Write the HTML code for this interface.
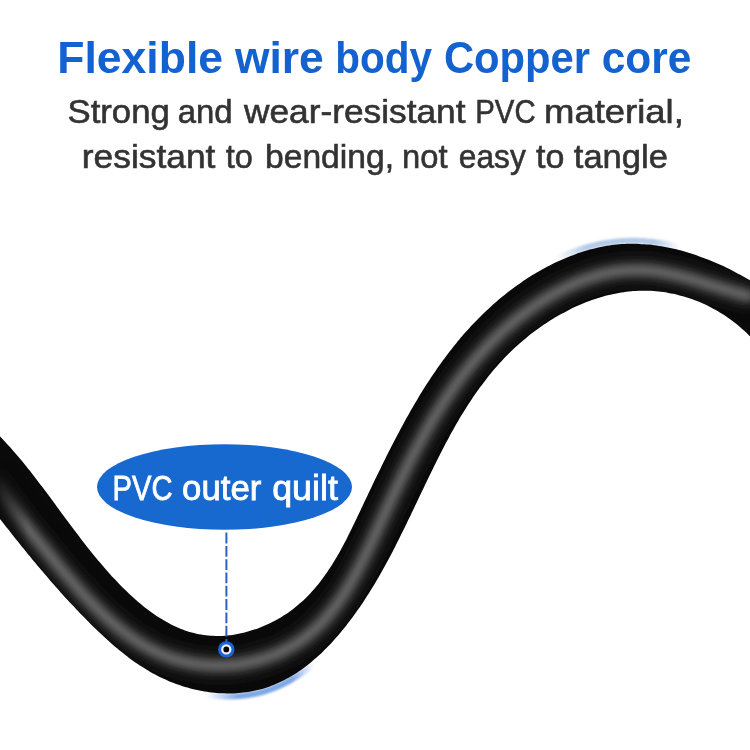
<!DOCTYPE html>
<html><head><meta charset="utf-8"><style>
html,body{margin:0;padding:0;background:#fff;}
#c{position:relative;width:750px;height:750px;overflow:hidden;background:#fff;}
svg{position:absolute;left:0;top:0;}
</style></head><body><div id="c">
<svg width="750" height="750" viewBox="0 0 750 750">
<defs>
<filter id="b1" x="-20%" y="-20%" width="140%" height="140%"><feGaussianBlur stdDeviation="4.5"/></filter>
<filter id="b2" x="-20%" y="-20%" width="140%" height="140%"><feGaussianBlur stdDeviation="2.5"/></filter>
<filter id="b3" x="-50%" y="-50%" width="200%" height="200%"><feGaussianBlur stdDeviation="0.7"/></filter>
<filter id="b4" x="-20%" y="-50%" width="140%" height="200%"><feGaussianBlur stdDeviation="1.3"/></filter>
<linearGradient id="gt" gradientUnits="userSpaceOnUse" x1="555" y1="0" x2="680" y2="0"><stop offset="0" stop-color="#b4cbe8" stop-opacity="0"/><stop offset="0.25" stop-color="#b4cbe8"/><stop offset="0.8" stop-color="#b4cbe8"/><stop offset="1" stop-color="#b4cbe8" stop-opacity="0"/></linearGradient>
<linearGradient id="gb" gradientUnits="userSpaceOnUse" x1="206" y1="0" x2="314" y2="0"><stop offset="0" stop-color="#7ea8e6" stop-opacity="0"/><stop offset="0.3" stop-color="#7ea8e6"/><stop offset="0.8" stop-color="#7ea8e6"/><stop offset="1" stop-color="#7ea8e6" stop-opacity="0"/></linearGradient>
<filter id="nf" x="-2%" y="-2%" width="104%" height="104%"><feOffset dx="0" dy="0"/></filter>
<filter id="b5" x="-20%" y="-20%" width="140%" height="140%"><feGaussianBlur stdDeviation="7"/></filter>
<linearGradient id="lg" gradientUnits="userSpaceOnUse" x1="0" y1="0" x2="28" y2="0"><stop offset="0" stop-color="#fff" stop-opacity="0.25"/><stop offset="1" stop-color="#fff" stop-opacity="1"/></linearGradient>
<mask id="lm" maskUnits="userSpaceOnUse" x="0" y="0" width="750" height="750"><rect x="0" y="0" width="750" height="750" fill="url(#lg)"/></mask>
<clipPath id="cc"><path d="M-10.8,425.8 C-10.1,426.4 -8.3,428.2 -7.1,429.4 C-5.8,430.6 -4.6,431.7 -3.4,432.9 C-2.2,434.1 -1.1,435.3 0.1,436.6 C1.3,437.8 2.4,439.0 3.6,440.2 C4.8,441.4 5.9,442.7 7.0,443.9 C8.2,445.1 9.3,446.4 10.4,447.6 C11.5,448.9 12.6,450.1 13.7,451.4 C14.8,452.6 15.9,453.9 17.0,455.2 C18.1,456.4 19.2,457.7 20.2,459.0 C21.3,460.2 22.4,461.5 23.4,462.8 C24.5,464.1 25.5,465.4 26.6,466.7 C27.6,468.0 28.6,469.3 29.7,470.6 C30.7,471.9 31.7,473.2 32.7,474.5 C33.8,475.8 34.8,477.1 35.8,478.4 C36.8,479.7 37.8,481.0 38.8,482.4 C39.8,483.7 40.8,485.0 41.8,486.3 C42.8,487.7 43.8,489.0 44.8,490.3 C45.8,491.6 46.8,493.0 47.8,494.3 C48.8,495.6 49.8,497.0 50.8,498.3 C51.8,499.6 52.7,501.0 53.7,502.3 C54.7,503.7 55.7,505.0 56.7,506.4 C57.7,507.7 58.7,509.0 59.7,510.4 C60.6,511.7 61.6,513.1 62.6,514.4 C63.6,515.8 64.6,517.1 65.6,518.5 C66.6,519.8 67.6,521.2 68.6,522.5 C69.6,523.9 70.6,525.2 71.6,526.5 C72.6,527.9 73.6,529.2 74.6,530.6 C75.6,531.9 76.7,533.3 77.7,534.6 C78.7,536.0 79.7,537.3 80.8,538.7 C81.8,540.0 82.8,541.3 83.9,542.7 C84.9,544.0 86.0,545.4 87.0,546.7 C88.1,548.0 89.1,549.4 90.2,550.7 C91.3,552.0 92.3,553.4 93.4,554.7 C94.5,556.0 95.6,557.3 96.7,558.7 C97.8,560.0 98.9,561.3 100.0,562.6 C101.1,563.9 102.2,565.3 103.4,566.6 C104.5,567.9 105.6,569.2 106.8,570.5 C107.9,571.8 109.1,573.1 110.3,574.4 C111.4,575.7 112.6,577.0 113.8,578.3 C115.0,579.5 116.2,580.8 117.4,582.1 C118.6,583.4 119.9,584.6 121.1,585.9 C122.3,587.1 123.5,588.4 124.8,589.6 C126.0,590.8 127.3,592.0 128.6,593.2 C129.8,594.4 131.1,595.6 132.4,596.8 C133.7,597.9 135.0,599.1 136.3,600.2 C137.6,601.4 138.9,602.5 140.2,603.6 C141.5,604.7 142.9,605.8 144.2,606.9 C145.6,607.9 146.9,609.0 148.3,610.0 C149.6,611.0 151.0,612.0 152.4,613.0 C153.8,614.0 155.2,614.9 156.5,615.9 C157.9,616.8 159.4,617.7 160.8,618.6 C162.2,619.4 163.6,620.3 165.0,621.1 C166.5,621.9 167.9,622.7 169.4,623.5 C170.8,624.3 172.3,625.0 173.7,625.7 C175.2,626.4 176.7,627.1 178.2,627.7 C179.7,628.4 181.2,629.0 182.7,629.5 C184.2,630.1 185.7,630.7 187.2,631.2 C188.7,631.7 190.2,632.1 191.8,632.6 C193.3,633.0 194.9,633.4 196.4,633.7 C198.0,634.1 199.5,634.4 201.1,634.6 C202.7,634.9 204.3,635.1 205.9,635.3 C207.5,635.5 209.0,635.7 210.7,635.8 C212.3,635.9 213.9,635.9 215.5,636.0 C217.1,636.0 218.7,636.0 220.3,635.9 C221.9,635.9 223.6,635.8 225.2,635.7 C226.8,635.5 228.4,635.4 230.1,635.2 C231.7,635.0 233.3,634.8 234.9,634.5 C236.6,634.2 238.2,633.9 239.8,633.6 C241.4,633.2 243.0,632.9 244.6,632.5 C246.2,632.1 247.8,631.6 249.4,631.1 C251.0,630.7 252.6,630.2 254.2,629.6 C255.8,629.1 257.4,628.5 258.9,627.9 C260.5,627.4 262.1,626.7 263.6,626.1 C265.1,625.4 266.7,624.7 268.2,624.0 C269.7,623.3 271.2,622.6 272.7,621.8 C274.2,621.0 275.7,620.3 277.1,619.4 C278.6,618.6 280.1,617.8 281.5,616.9 C282.9,616.0 284.3,615.1 285.7,614.2 C287.1,613.3 288.5,612.3 289.8,611.4 C291.2,610.4 292.5,609.4 293.8,608.4 C295.2,607.4 296.5,606.4 297.7,605.3 C299.0,604.2 300.2,603.2 301.5,602.1 C302.7,601.0 303.9,599.8 305.1,598.7 C306.2,597.6 307.4,596.4 308.5,595.2 C309.7,594.1 310.8,592.9 311.9,591.6 C313.0,590.4 314.1,589.2 315.1,588.0 C316.2,586.7 317.2,585.4 318.3,584.2 C319.3,582.9 320.3,581.6 321.3,580.3 C322.3,579.0 323.3,577.6 324.2,576.3 C325.2,575.0 326.2,573.6 327.1,572.2 C328.0,570.9 328.9,569.5 329.9,568.1 C330.8,566.7 331.7,565.3 332.5,563.9 C333.4,562.5 334.3,561.0 335.2,559.6 C336.0,558.2 336.9,556.7 337.7,555.3 C338.5,553.8 339.4,552.3 340.2,550.9 C341.0,549.4 341.8,547.9 342.6,546.4 C343.4,544.9 344.2,543.4 345.0,541.9 C345.8,540.4 346.6,538.9 347.3,537.4 C348.1,535.9 348.9,534.3 349.6,532.8 C350.4,531.3 351.2,529.8 351.9,528.2 C352.7,526.7 353.4,525.1 354.2,523.6 C354.9,522.1 355.6,520.5 356.4,519.0 C357.1,517.4 357.9,515.9 358.6,514.3 C359.3,512.8 360.1,511.2 360.8,509.7 C361.5,508.1 362.3,506.5 363.0,505.0 C363.7,503.4 364.5,501.9 365.2,500.3 C365.9,498.8 366.7,497.2 367.4,495.7 C368.1,494.1 368.9,492.6 369.6,491.0 C370.3,489.5 371.1,487.9 371.8,486.4 C372.6,484.8 373.3,483.3 374.0,481.7 C374.8,480.2 375.5,478.7 376.3,477.1 C377.0,475.6 377.8,474.0 378.5,472.5 C379.3,471.0 380.0,469.4 380.8,467.9 C381.5,466.4 382.3,464.8 383.0,463.3 C383.8,461.8 384.5,460.2 385.3,458.7 C386.0,457.2 386.8,455.6 387.6,454.1 C388.3,452.6 389.1,451.1 389.9,449.6 C390.6,448.0 391.4,446.5 392.2,445.0 C393.0,443.5 393.7,442.0 394.5,440.5 C395.3,439.0 396.1,437.5 396.9,436.0 C397.7,434.5 398.5,433.0 399.3,431.5 C400.0,430.0 400.8,428.5 401.7,427.0 C402.5,425.5 403.3,424.0 404.1,422.6 C404.9,421.1 405.7,419.6 406.5,418.1 C407.3,416.7 408.2,415.2 409.0,413.7 C409.8,412.3 410.6,410.8 411.5,409.3 C412.3,407.9 413.2,406.4 414.0,405.0 C414.9,403.5 415.7,402.1 416.6,400.7 C417.4,399.2 418.3,397.8 419.1,396.3 C420.0,394.9 420.9,393.5 421.8,392.1 C422.6,390.6 423.5,389.2 424.4,387.8 C425.3,386.4 426.2,385.0 427.1,383.6 C428.0,382.2 428.9,380.8 429.8,379.4 C430.7,378.0 431.6,376.6 432.6,375.3 C433.5,373.9 434.4,372.5 435.4,371.2 C436.3,369.8 437.3,368.4 438.2,367.1 C439.2,365.7 440.1,364.4 441.1,363.0 C442.0,361.7 443.0,360.3 444.0,359.0 C445.0,357.7 446.0,356.4 447.0,355.0 C448.0,353.7 449.0,352.4 450.0,351.1 C451.0,349.8 452.0,348.5 453.0,347.2 C454.0,345.9 455.1,344.6 456.1,343.4 C457.1,342.1 458.2,340.8 459.3,339.6 C460.3,338.3 461.4,337.0 462.4,335.8 C463.5,334.5 464.6,333.3 465.7,332.1 C466.8,330.8 467.9,329.6 469.0,328.4 C470.1,327.2 471.2,326.0 472.3,324.8 C473.5,323.6 474.6,322.4 475.8,321.2 C476.9,320.0 478.1,318.8 479.2,317.7 C480.4,316.5 481.6,315.3 482.7,314.2 C483.9,313.0 485.1,311.9 486.3,310.8 C487.5,309.6 488.7,308.5 489.9,307.4 C491.2,306.3 492.4,305.2 493.6,304.1 C494.9,303.0 496.1,301.9 497.4,300.8 C498.7,299.7 499.9,298.6 501.2,297.6 C502.5,296.5 503.8,295.5 505.1,294.4 C506.4,293.4 507.7,292.4 509.1,291.3 C510.4,290.3 511.7,289.3 513.1,288.3 C514.4,287.3 515.8,286.3 517.2,285.3 C518.6,284.3 519.9,283.4 521.3,282.4 C522.7,281.4 524.1,280.5 525.6,279.6 C527.0,278.6 528.4,277.7 529.8,276.8 C531.3,275.9 532.7,275.0 534.2,274.1 C535.6,273.2 537.1,272.3 538.6,271.5 C540.0,270.6 541.5,269.8 543.0,269.0 C544.5,268.2 546.0,267.3 547.5,266.6 C549.0,265.8 550.5,265.0 552.0,264.2 C553.5,263.5 555.1,262.7 556.6,262.0 C558.1,261.3 559.7,260.6 561.2,259.9 C562.8,259.2 564.3,258.5 565.9,257.9 C567.5,257.2 569.0,256.6 570.6,256.0 C572.2,255.4 573.8,254.8 575.4,254.2 C576.9,253.6 578.5,253.1 580.1,252.5 C581.7,252.0 583.3,251.5 584.9,251.0 C586.6,250.5 588.2,250.1 589.8,249.6 C591.4,249.2 593.0,248.8 594.6,248.4 C596.3,248.0 597.9,247.6 599.5,247.2 C601.2,246.9 602.8,246.6 604.4,246.3 C606.1,246.0 607.7,245.7 609.4,245.5 C611.0,245.2 612.6,245.0 614.3,244.8 C615.9,244.6 617.6,244.4 619.2,244.3 C620.9,244.2 622.6,244.0 624.2,244.0 C625.9,243.9 627.5,243.8 629.2,243.8 C630.8,243.7 632.5,243.7 634.2,243.8 C635.8,243.8 637.5,243.8 639.2,243.9 C640.8,244.0 642.5,244.1 644.1,244.2 C645.8,244.3 647.5,244.4 649.1,244.6 C650.8,244.8 652.4,245.0 654.1,245.2 C655.8,245.4 657.4,245.6 659.1,245.9 C660.7,246.1 662.4,246.4 664.0,246.7 C665.7,247.0 667.3,247.3 669.0,247.7 C670.6,248.0 672.3,248.4 673.9,248.8 C675.6,249.1 677.2,249.5 678.9,250.0 C680.5,250.4 682.1,250.8 683.8,251.3 C685.4,251.8 687.0,252.2 688.6,252.7 C690.3,253.2 691.9,253.7 693.5,254.3 C695.1,254.8 696.7,255.4 698.3,255.9 C699.9,256.5 701.5,257.1 703.1,257.7 C704.7,258.3 706.3,258.9 707.9,259.5 C709.5,260.2 711.1,260.8 712.6,261.5 C714.2,262.1 715.8,262.8 717.3,263.5 C718.9,264.2 720.4,264.9 722.0,265.6 C723.5,266.3 725.1,267.0 726.6,267.8 C728.1,268.5 729.7,269.3 731.2,270.0 C732.7,270.8 734.2,271.6 735.7,272.4 C737.2,273.2 738.7,274.0 740.2,274.8 C741.7,275.6 743.1,276.4 744.6,277.2 C746.1,278.1 747.5,278.9 749.0,279.8 C750.4,280.6 751.9,281.5 753.3,282.3 C754.7,283.2 756.1,284.1 757.5,285.0 C759.0,285.8 761.0,287.2 761.7,287.6 L761.8,350.1 C761.3,349.4 759.7,347.3 758.6,346.0 C757.5,344.6 756.3,343.3 755.2,342.0 C754.0,340.7 752.9,339.4 751.7,338.1 C750.5,336.9 749.3,335.6 748.1,334.4 C746.8,333.2 745.6,332.0 744.3,330.8 C743.1,329.7 741.8,328.5 740.5,327.4 C739.2,326.3 737.9,325.2 736.5,324.1 C735.2,323.0 733.8,322.0 732.5,320.9 C731.1,319.9 729.7,318.9 728.3,317.9 C727.0,317.0 725.5,316.0 724.1,315.1 C722.7,314.1 721.3,313.2 719.8,312.4 C718.4,311.5 716.9,310.6 715.4,309.8 C714.0,309.0 712.5,308.2 711.0,307.4 C709.5,306.6 708.0,305.9 706.5,305.1 C704.9,304.4 703.4,303.7 701.9,303.0 C700.3,302.4 698.8,301.7 697.2,301.1 C695.7,300.5 694.1,299.9 692.5,299.3 C690.9,298.7 689.4,298.2 687.8,297.7 C686.2,297.2 684.6,296.7 683.0,296.2 C681.4,295.8 679.8,295.3 678.1,294.9 C676.5,294.5 674.9,294.2 673.3,293.8 C671.6,293.5 670.0,293.1 668.4,292.9 C666.7,292.6 665.1,292.3 663.4,292.1 C661.8,291.8 660.1,291.6 658.5,291.5 C656.8,291.3 655.2,291.1 653.5,291.0 C651.9,290.9 650.2,290.8 648.6,290.8 C646.9,290.7 645.2,290.7 643.6,290.7 C641.9,290.7 640.3,290.7 638.6,290.8 C636.9,290.9 635.3,291.0 633.6,291.1 C632.0,291.2 630.3,291.3 628.6,291.5 C627.0,291.7 625.3,291.9 623.7,292.2 C622.0,292.4 620.4,292.7 618.7,293.0 C617.1,293.2 615.4,293.6 613.8,293.9 C612.2,294.3 610.5,294.6 608.9,295.0 C607.3,295.4 605.6,295.8 604.0,296.3 C602.4,296.7 600.8,297.2 599.1,297.7 C597.5,298.2 595.9,298.7 594.3,299.3 C592.7,299.8 591.1,300.4 589.5,301.0 C587.9,301.5 586.3,302.1 584.7,302.8 C583.1,303.4 581.6,304.1 580.0,304.7 C578.4,305.4 576.9,306.1 575.3,306.8 C573.8,307.5 572.2,308.3 570.7,309.0 C569.1,309.8 567.6,310.6 566.1,311.4 C564.6,312.2 563.1,313.0 561.5,313.8 C560.0,314.6 558.6,315.5 557.1,316.3 C555.6,317.2 554.1,318.1 552.6,319.0 C551.2,319.9 549.7,320.8 548.3,321.7 C546.8,322.7 545.4,323.6 544.0,324.6 C542.6,325.5 541.2,326.5 539.8,327.5 C538.4,328.5 537.0,329.5 535.6,330.5 C534.2,331.5 532.9,332.5 531.5,333.6 C530.2,334.6 528.9,335.7 527.5,336.7 C526.2,337.8 524.9,338.9 523.6,340.0 C522.3,341.1 521.1,342.2 519.8,343.3 C518.5,344.4 517.3,345.5 516.1,346.6 C514.8,347.8 513.6,348.9 512.4,350.1 C511.2,351.2 510.0,352.4 508.8,353.6 C507.7,354.7 506.5,355.9 505.3,357.1 C504.2,358.3 503.1,359.5 501.9,360.7 C500.8,361.9 499.7,363.1 498.6,364.3 C497.5,365.6 496.4,366.8 495.3,368.1 C494.3,369.3 493.2,370.5 492.1,371.8 C491.1,373.1 490.0,374.3 489.0,375.6 C488.0,376.9 487.0,378.2 486.0,379.5 C485.0,380.8 484.0,382.1 483.0,383.4 C482.0,384.7 481.0,386.0 480.0,387.3 C479.1,388.6 478.1,390.0 477.2,391.3 C476.2,392.6 475.3,394.0 474.3,395.3 C473.4,396.7 472.5,398.1 471.6,399.4 C470.7,400.8 469.8,402.2 468.9,403.5 C468.0,404.9 467.1,406.3 466.2,407.7 C465.3,409.1 464.5,410.5 463.6,411.9 C462.7,413.3 461.9,414.7 461.0,416.1 C460.2,417.5 459.3,418.9 458.5,420.4 C457.7,421.8 456.8,423.2 456.0,424.6 C455.2,426.1 454.4,427.5 453.6,429.0 C452.7,430.4 451.9,431.9 451.1,433.3 C450.3,434.8 449.5,436.2 448.8,437.7 C448.0,439.1 447.2,440.6 446.4,442.1 C445.6,443.6 444.8,445.0 444.1,446.5 C443.3,448.0 442.5,449.5 441.8,451.0 C441.0,452.4 440.2,453.9 439.5,455.4 C438.7,456.9 438.0,458.4 437.2,459.9 C436.5,461.4 435.7,462.9 435.0,464.4 C434.2,465.9 433.5,467.4 432.8,468.9 C432.0,470.5 431.3,472.0 430.6,473.5 C429.8,475.0 429.1,476.5 428.4,478.0 C427.6,479.5 426.9,481.1 426.2,482.6 C425.4,484.1 424.7,485.6 424.0,487.2 C423.3,488.7 422.5,490.2 421.8,491.7 C421.1,493.3 420.3,494.8 419.6,496.3 C418.9,497.9 418.2,499.4 417.4,500.9 C416.7,502.5 416.0,504.0 415.2,505.5 C414.5,507.1 413.8,508.6 413.1,510.1 C412.3,511.7 411.6,513.2 410.9,514.7 C410.1,516.3 409.4,517.8 408.6,519.3 C407.9,520.9 407.2,522.4 406.4,523.9 C405.7,525.5 404.9,527.0 404.2,528.5 C403.4,530.1 402.7,531.6 401.9,533.1 C401.2,534.7 400.4,536.2 399.6,537.7 C398.9,539.2 398.1,540.8 397.3,542.3 C396.6,543.8 395.8,545.3 395.0,546.9 C394.2,548.4 393.4,549.9 392.7,551.4 C391.9,552.9 391.1,554.5 390.3,556.0 C389.5,557.5 388.7,559.0 387.9,560.5 C387.0,562.0 386.2,563.5 385.4,565.0 C384.6,566.5 383.7,568.0 382.9,569.5 C382.1,571.0 381.2,572.5 380.4,574.0 C379.5,575.5 378.7,577.0 377.8,578.4 C376.9,579.9 376.1,581.4 375.2,582.9 C374.3,584.4 373.4,585.8 372.5,587.3 C371.6,588.8 370.7,590.2 369.8,591.7 C368.9,593.2 368.0,594.6 367.0,596.1 C366.1,597.5 365.2,599.0 364.2,600.4 C363.3,601.8 362.3,603.3 361.4,604.7 C360.4,606.1 359.4,607.6 358.4,609.0 C357.4,610.4 356.4,611.8 355.4,613.2 C354.4,614.6 353.4,616.0 352.4,617.4 C351.3,618.8 350.3,620.2 349.3,621.6 C348.2,623.0 347.1,624.3 346.1,625.7 C345.0,627.0 343.9,628.4 342.8,629.7 C341.7,631.1 340.6,632.4 339.5,633.7 C338.4,635.0 337.3,636.3 336.2,637.6 C335.0,638.9 333.9,640.2 332.7,641.4 C331.6,642.7 330.4,643.9 329.2,645.2 C328.1,646.4 326.9,647.6 325.7,648.8 C324.5,650.0 323.3,651.2 322.1,652.4 C320.9,653.5 319.6,654.7 318.4,655.8 C317.2,656.9 315.9,658.1 314.6,659.1 C313.4,660.2 312.1,661.3 310.8,662.4 C309.6,663.4 308.3,664.4 307.0,665.5 C305.7,666.5 304.4,667.5 303.0,668.4 C301.7,669.4 300.4,670.3 299.0,671.2 C297.7,672.2 296.3,673.1 295.0,673.9 C293.6,674.8 292.2,675.6 290.8,676.5 C289.4,677.3 288.0,678.1 286.6,678.8 C285.2,679.6 283.8,680.3 282.4,681.1 C280.9,681.8 279.5,682.5 278.0,683.1 C276.6,683.8 275.1,684.4 273.6,685.0 C272.2,685.6 270.7,686.1 269.2,686.7 C267.7,687.2 266.2,687.7 264.6,688.2 C263.1,688.6 261.6,689.1 260.0,689.5 C258.5,689.9 256.9,690.3 255.4,690.6 C253.8,690.9 252.3,691.3 250.7,691.5 C249.1,691.8 247.5,692.1 245.9,692.3 C244.3,692.5 242.7,692.7 241.1,692.8 C239.5,693.0 237.9,693.1 236.3,693.2 C234.7,693.3 233.0,693.4 231.4,693.4 C229.8,693.5 228.2,693.5 226.5,693.5 C224.9,693.4 223.3,693.4 221.6,693.3 C220.0,693.2 218.4,693.1 216.7,693.0 C215.1,692.9 213.4,692.7 211.8,692.5 C210.2,692.3 208.5,692.1 206.9,691.8 C205.3,691.6 203.6,691.3 202.0,691.0 C200.4,690.7 198.7,690.4 197.1,690.0 C195.5,689.7 193.8,689.3 192.2,688.9 C190.6,688.5 189.0,688.1 187.4,687.6 C185.8,687.1 184.2,686.7 182.6,686.2 C181.0,685.6 179.4,685.1 177.8,684.6 C176.2,684.0 174.6,683.4 173.1,682.8 C171.5,682.2 169.9,681.6 168.4,680.9 C166.9,680.2 165.3,679.6 163.8,678.8 C162.3,678.1 160.7,677.4 159.2,676.7 C157.7,675.9 156.2,675.1 154.7,674.3 C153.3,673.5 151.8,672.7 150.3,671.9 C148.9,671.0 147.4,670.2 146.0,669.3 C144.5,668.4 143.1,667.5 141.7,666.6 C140.2,665.7 138.8,664.7 137.4,663.8 C136.0,662.8 134.6,661.9 133.2,660.9 C131.9,659.9 130.5,658.9 129.1,657.9 C127.7,656.8 126.4,655.8 125.0,654.8 C123.7,653.7 122.4,652.6 121.0,651.6 C119.7,650.5 118.4,649.4 117.1,648.3 C115.7,647.2 114.4,646.1 113.1,645.0 C111.8,643.9 110.5,642.7 109.3,641.6 C108.0,640.4 106.7,639.3 105.4,638.1 C104.2,637.0 102.9,635.8 101.7,634.6 C100.4,633.5 99.2,632.3 97.9,631.1 C96.7,629.9 95.5,628.7 94.2,627.5 C93.0,626.3 91.8,625.1 90.6,623.9 C89.4,622.7 88.2,621.5 87.0,620.3 C85.8,619.1 84.6,617.8 83.4,616.6 C82.2,615.4 81.0,614.2 79.8,613.0 C78.7,611.7 77.5,610.5 76.3,609.3 C75.2,608.1 74.0,606.8 72.9,605.6 C71.7,604.4 70.6,603.1 69.4,601.9 C68.3,600.7 67.1,599.4 66.0,598.2 C64.9,596.9 63.7,595.7 62.6,594.4 C61.5,593.2 60.4,592.0 59.3,590.7 C58.2,589.5 57.0,588.2 55.9,587.0 C54.8,585.7 53.7,584.4 52.6,583.2 C51.5,581.9 50.4,580.7 49.4,579.4 C48.3,578.2 47.2,576.9 46.1,575.6 C45.0,574.4 43.9,573.1 42.9,571.8 C41.8,570.6 40.7,569.3 39.6,568.0 C38.6,566.7 37.5,565.5 36.4,564.2 C35.4,562.9 34.3,561.6 33.2,560.4 C32.2,559.1 31.1,557.8 30.1,556.5 C29.0,555.2 28.0,554.0 26.9,552.7 C25.9,551.4 24.8,550.1 23.8,548.8 C22.7,547.5 21.7,546.2 20.6,544.9 C19.6,543.6 18.6,542.3 17.5,541.0 C16.5,539.8 15.4,538.5 14.4,537.2 C13.4,535.9 12.3,534.6 11.3,533.3 C10.3,531.9 9.2,530.6 8.2,529.3 C7.2,528.0 6.1,526.7 5.1,525.4 C4.1,524.1 3.0,522.8 2.0,521.5 C1.0,520.2 -0.1,518.9 -1.1,517.6 C-2.1,516.2 -3.2,514.9 -4.2,513.6 C-5.2,512.3 -6.3,511.0 -7.3,509.7 C-8.3,508.3 -9.9,506.3 -10.4,505.7 Z"/></clipPath>
</defs>
<path d="M555.2,259.4 C555.6,259.1 557.0,258.5 558.0,258.1 C558.9,257.6 559.8,257.2 560.8,256.8 C561.7,256.4 562.7,256.0 563.6,255.6 C564.5,255.2 565.5,254.8 566.4,254.4 C567.4,254.0 568.3,253.6 569.3,253.3 C570.3,252.9 571.2,252.5 572.2,252.2 C573.1,251.8 574.1,251.5 575.1,251.1 C576.0,250.8 577.0,250.4 578.0,250.1 C578.9,249.8 579.9,249.5 580.9,249.1 C581.8,248.8 582.8,248.5 583.8,248.2 C584.8,247.9 585.7,247.6 586.7,247.4 C587.7,247.1 588.7,246.8 589.7,246.5 C590.6,246.3 591.6,246.0 592.6,245.8 C593.6,245.5 594.6,245.3 595.6,245.1 C596.6,244.8 597.6,244.6 598.5,244.4 C599.5,244.2 600.5,244.0 601.5,243.8 C602.5,243.6 603.5,243.4 604.5,243.2 C605.5,243.0 606.5,242.9 607.5,242.7 C608.5,242.6 609.5,242.4 610.5,242.3 C611.5,242.1 612.5,242.0 613.5,241.9 C614.5,241.8 615.5,241.6 616.5,241.5 C617.6,241.4 618.6,241.3 619.6,241.3 C620.6,241.2 621.6,241.1 622.6,241.0 C623.6,241.0 624.6,240.9 625.6,240.9 C626.6,240.8 627.6,240.8 628.7,240.8 C629.7,240.8 630.7,240.8 631.7,240.8 C632.7,240.7 633.7,240.8 634.7,240.8 C635.7,240.8 636.7,240.8 637.8,240.8 C638.8,240.9 639.8,240.9 640.8,241.0 C641.8,241.0 642.8,241.1 643.8,241.1 C644.8,241.2 645.8,241.3 646.9,241.4 C647.9,241.5 648.9,241.6 649.9,241.7 C650.9,241.8 651.9,241.9 652.9,242.0 C653.9,242.1 654.9,242.2 655.9,242.4 C656.9,242.5 657.9,242.7 659.0,242.8 C660.0,243.0 661.0,243.1 662.0,243.3 C663.0,243.5 664.0,243.6 665.0,243.8 C666.0,244.0 667.0,244.2 668.0,244.4 C669.0,244.6 670.0,244.8 671.0,245.0 C672.0,245.2 673.0,245.5 674.0,245.7 C675.0,245.9 676.0,246.2 677.0,246.4 C678.0,246.6 679.4,247.0 679.9,247.1" fill="none" stroke="url(#gt)" stroke-width="6" filter="url(#b4)"/>
<path d="M206.4,694.8 C206.9,694.9 208.3,695.1 209.3,695.2 C210.3,695.3 211.3,695.5 212.3,695.6 C213.3,695.7 214.3,695.8 215.3,695.9 C216.3,696.0 217.3,696.0 218.3,696.1 C219.3,696.2 220.3,696.2 221.3,696.3 C222.3,696.3 223.3,696.4 224.3,696.4 C225.3,696.4 226.3,696.5 227.3,696.5 C228.3,696.5 229.3,696.5 230.3,696.4 C231.3,696.4 232.3,696.4 233.3,696.4 C234.3,696.3 235.3,696.3 236.3,696.2 C237.2,696.2 238.2,696.1 239.2,696.0 C240.2,695.9 241.2,695.9 242.2,695.8 C243.1,695.7 244.1,695.5 245.1,695.4 C246.1,695.3 247.1,695.2 248.0,695.0 C249.0,694.9 250.0,694.7 250.9,694.5 C251.9,694.4 252.9,694.2 253.8,694.0 C254.8,693.8 255.7,693.6 256.7,693.4 C257.7,693.2 258.6,692.9 259.6,692.7 C260.5,692.5 261.5,692.2 262.4,692.0 C263.3,691.7 264.3,691.4 265.2,691.1 C266.1,690.8 267.1,690.6 268.0,690.2 C268.9,689.9 269.9,689.6 270.8,689.3 C271.7,689.0 272.6,688.6 273.5,688.3 C274.4,687.9 275.3,687.5 276.2,687.2 C277.1,686.8 278.0,686.4 278.9,686.0 C279.8,685.6 280.7,685.2 281.6,684.8 C282.5,684.4 283.3,683.9 284.2,683.5 C285.1,683.0 286.0,682.6 286.8,682.1 C287.7,681.7 288.6,681.2 289.4,680.7 C290.3,680.3 291.1,679.8 292.0,679.3 C292.8,678.8 293.7,678.3 294.5,677.7 C295.3,677.2 296.2,676.7 297.0,676.2 C297.9,675.6 298.7,675.1 299.5,674.5 C300.3,674.0 301.1,673.4 302.0,672.9 C302.8,672.3 303.6,671.7 304.4,671.1 C305.2,670.6 306.0,670.0 306.8,669.4 C307.6,668.8 308.4,668.1 309.2,667.5 C310.0,666.9 310.8,666.3 311.5,665.7 C312.3,665.0 313.5,664.1 313.9,663.8" fill="none" stroke="url(#gb)" stroke-width="6" filter="url(#b4)"/>

<path d="M-10.8,425.8 C-10.1,426.4 -8.3,428.2 -7.1,429.4 C-5.8,430.6 -4.6,431.7 -3.4,432.9 C-2.2,434.1 -1.1,435.3 0.1,436.6 C1.3,437.8 2.4,439.0 3.6,440.2 C4.8,441.4 5.9,442.7 7.0,443.9 C8.2,445.1 9.3,446.4 10.4,447.6 C11.5,448.9 12.6,450.1 13.7,451.4 C14.8,452.6 15.9,453.9 17.0,455.2 C18.1,456.4 19.2,457.7 20.2,459.0 C21.3,460.2 22.4,461.5 23.4,462.8 C24.5,464.1 25.5,465.4 26.6,466.7 C27.6,468.0 28.6,469.3 29.7,470.6 C30.7,471.9 31.7,473.2 32.7,474.5 C33.8,475.8 34.8,477.1 35.8,478.4 C36.8,479.7 37.8,481.0 38.8,482.4 C39.8,483.7 40.8,485.0 41.8,486.3 C42.8,487.7 43.8,489.0 44.8,490.3 C45.8,491.6 46.8,493.0 47.8,494.3 C48.8,495.6 49.8,497.0 50.8,498.3 C51.8,499.6 52.7,501.0 53.7,502.3 C54.7,503.7 55.7,505.0 56.7,506.4 C57.7,507.7 58.7,509.0 59.7,510.4 C60.6,511.7 61.6,513.1 62.6,514.4 C63.6,515.8 64.6,517.1 65.6,518.5 C66.6,519.8 67.6,521.2 68.6,522.5 C69.6,523.9 70.6,525.2 71.6,526.5 C72.6,527.9 73.6,529.2 74.6,530.6 C75.6,531.9 76.7,533.3 77.7,534.6 C78.7,536.0 79.7,537.3 80.8,538.7 C81.8,540.0 82.8,541.3 83.9,542.7 C84.9,544.0 86.0,545.4 87.0,546.7 C88.1,548.0 89.1,549.4 90.2,550.7 C91.3,552.0 92.3,553.4 93.4,554.7 C94.5,556.0 95.6,557.3 96.7,558.7 C97.8,560.0 98.9,561.3 100.0,562.6 C101.1,563.9 102.2,565.3 103.4,566.6 C104.5,567.9 105.6,569.2 106.8,570.5 C107.9,571.8 109.1,573.1 110.3,574.4 C111.4,575.7 112.6,577.0 113.8,578.3 C115.0,579.5 116.2,580.8 117.4,582.1 C118.6,583.4 119.9,584.6 121.1,585.9 C122.3,587.1 123.5,588.4 124.8,589.6 C126.0,590.8 127.3,592.0 128.6,593.2 C129.8,594.4 131.1,595.6 132.4,596.8 C133.7,597.9 135.0,599.1 136.3,600.2 C137.6,601.4 138.9,602.5 140.2,603.6 C141.5,604.7 142.9,605.8 144.2,606.9 C145.6,607.9 146.9,609.0 148.3,610.0 C149.6,611.0 151.0,612.0 152.4,613.0 C153.8,614.0 155.2,614.9 156.5,615.9 C157.9,616.8 159.4,617.7 160.8,618.6 C162.2,619.4 163.6,620.3 165.0,621.1 C166.5,621.9 167.9,622.7 169.4,623.5 C170.8,624.3 172.3,625.0 173.7,625.7 C175.2,626.4 176.7,627.1 178.2,627.7 C179.7,628.4 181.2,629.0 182.7,629.5 C184.2,630.1 185.7,630.7 187.2,631.2 C188.7,631.7 190.2,632.1 191.8,632.6 C193.3,633.0 194.9,633.4 196.4,633.7 C198.0,634.1 199.5,634.4 201.1,634.6 C202.7,634.9 204.3,635.1 205.9,635.3 C207.5,635.5 209.0,635.7 210.7,635.8 C212.3,635.9 213.9,635.9 215.5,636.0 C217.1,636.0 218.7,636.0 220.3,635.9 C221.9,635.9 223.6,635.8 225.2,635.7 C226.8,635.5 228.4,635.4 230.1,635.2 C231.7,635.0 233.3,634.8 234.9,634.5 C236.6,634.2 238.2,633.9 239.8,633.6 C241.4,633.2 243.0,632.9 244.6,632.5 C246.2,632.1 247.8,631.6 249.4,631.1 C251.0,630.7 252.6,630.2 254.2,629.6 C255.8,629.1 257.4,628.5 258.9,627.9 C260.5,627.4 262.1,626.7 263.6,626.1 C265.1,625.4 266.7,624.7 268.2,624.0 C269.7,623.3 271.2,622.6 272.7,621.8 C274.2,621.0 275.7,620.3 277.1,619.4 C278.6,618.6 280.1,617.8 281.5,616.9 C282.9,616.0 284.3,615.1 285.7,614.2 C287.1,613.3 288.5,612.3 289.8,611.4 C291.2,610.4 292.5,609.4 293.8,608.4 C295.2,607.4 296.5,606.4 297.7,605.3 C299.0,604.2 300.2,603.2 301.5,602.1 C302.7,601.0 303.9,599.8 305.1,598.7 C306.2,597.6 307.4,596.4 308.5,595.2 C309.7,594.1 310.8,592.9 311.9,591.6 C313.0,590.4 314.1,589.2 315.1,588.0 C316.2,586.7 317.2,585.4 318.3,584.2 C319.3,582.9 320.3,581.6 321.3,580.3 C322.3,579.0 323.3,577.6 324.2,576.3 C325.2,575.0 326.2,573.6 327.1,572.2 C328.0,570.9 328.9,569.5 329.9,568.1 C330.8,566.7 331.7,565.3 332.5,563.9 C333.4,562.5 334.3,561.0 335.2,559.6 C336.0,558.2 336.9,556.7 337.7,555.3 C338.5,553.8 339.4,552.3 340.2,550.9 C341.0,549.4 341.8,547.9 342.6,546.4 C343.4,544.9 344.2,543.4 345.0,541.9 C345.8,540.4 346.6,538.9 347.3,537.4 C348.1,535.9 348.9,534.3 349.6,532.8 C350.4,531.3 351.2,529.8 351.9,528.2 C352.7,526.7 353.4,525.1 354.2,523.6 C354.9,522.1 355.6,520.5 356.4,519.0 C357.1,517.4 357.9,515.9 358.6,514.3 C359.3,512.8 360.1,511.2 360.8,509.7 C361.5,508.1 362.3,506.5 363.0,505.0 C363.7,503.4 364.5,501.9 365.2,500.3 C365.9,498.8 366.7,497.2 367.4,495.7 C368.1,494.1 368.9,492.6 369.6,491.0 C370.3,489.5 371.1,487.9 371.8,486.4 C372.6,484.8 373.3,483.3 374.0,481.7 C374.8,480.2 375.5,478.7 376.3,477.1 C377.0,475.6 377.8,474.0 378.5,472.5 C379.3,471.0 380.0,469.4 380.8,467.9 C381.5,466.4 382.3,464.8 383.0,463.3 C383.8,461.8 384.5,460.2 385.3,458.7 C386.0,457.2 386.8,455.6 387.6,454.1 C388.3,452.6 389.1,451.1 389.9,449.6 C390.6,448.0 391.4,446.5 392.2,445.0 C393.0,443.5 393.7,442.0 394.5,440.5 C395.3,439.0 396.1,437.5 396.9,436.0 C397.7,434.5 398.5,433.0 399.3,431.5 C400.0,430.0 400.8,428.5 401.7,427.0 C402.5,425.5 403.3,424.0 404.1,422.6 C404.9,421.1 405.7,419.6 406.5,418.1 C407.3,416.7 408.2,415.2 409.0,413.7 C409.8,412.3 410.6,410.8 411.5,409.3 C412.3,407.9 413.2,406.4 414.0,405.0 C414.9,403.5 415.7,402.1 416.6,400.7 C417.4,399.2 418.3,397.8 419.1,396.3 C420.0,394.9 420.9,393.5 421.8,392.1 C422.6,390.6 423.5,389.2 424.4,387.8 C425.3,386.4 426.2,385.0 427.1,383.6 C428.0,382.2 428.9,380.8 429.8,379.4 C430.7,378.0 431.6,376.6 432.6,375.3 C433.5,373.9 434.4,372.5 435.4,371.2 C436.3,369.8 437.3,368.4 438.2,367.1 C439.2,365.7 440.1,364.4 441.1,363.0 C442.0,361.7 443.0,360.3 444.0,359.0 C445.0,357.7 446.0,356.4 447.0,355.0 C448.0,353.7 449.0,352.4 450.0,351.1 C451.0,349.8 452.0,348.5 453.0,347.2 C454.0,345.9 455.1,344.6 456.1,343.4 C457.1,342.1 458.2,340.8 459.3,339.6 C460.3,338.3 461.4,337.0 462.4,335.8 C463.5,334.5 464.6,333.3 465.7,332.1 C466.8,330.8 467.9,329.6 469.0,328.4 C470.1,327.2 471.2,326.0 472.3,324.8 C473.5,323.6 474.6,322.4 475.8,321.2 C476.9,320.0 478.1,318.8 479.2,317.7 C480.4,316.5 481.6,315.3 482.7,314.2 C483.9,313.0 485.1,311.9 486.3,310.8 C487.5,309.6 488.7,308.5 489.9,307.4 C491.2,306.3 492.4,305.2 493.6,304.1 C494.9,303.0 496.1,301.9 497.4,300.8 C498.7,299.7 499.9,298.6 501.2,297.6 C502.5,296.5 503.8,295.5 505.1,294.4 C506.4,293.4 507.7,292.4 509.1,291.3 C510.4,290.3 511.7,289.3 513.1,288.3 C514.4,287.3 515.8,286.3 517.2,285.3 C518.6,284.3 519.9,283.4 521.3,282.4 C522.7,281.4 524.1,280.5 525.6,279.6 C527.0,278.6 528.4,277.7 529.8,276.8 C531.3,275.9 532.7,275.0 534.2,274.1 C535.6,273.2 537.1,272.3 538.6,271.5 C540.0,270.6 541.5,269.8 543.0,269.0 C544.5,268.2 546.0,267.3 547.5,266.6 C549.0,265.8 550.5,265.0 552.0,264.2 C553.5,263.5 555.1,262.7 556.6,262.0 C558.1,261.3 559.7,260.6 561.2,259.9 C562.8,259.2 564.3,258.5 565.9,257.9 C567.5,257.2 569.0,256.6 570.6,256.0 C572.2,255.4 573.8,254.8 575.4,254.2 C576.9,253.6 578.5,253.1 580.1,252.5 C581.7,252.0 583.3,251.5 584.9,251.0 C586.6,250.5 588.2,250.1 589.8,249.6 C591.4,249.2 593.0,248.8 594.6,248.4 C596.3,248.0 597.9,247.6 599.5,247.2 C601.2,246.9 602.8,246.6 604.4,246.3 C606.1,246.0 607.7,245.7 609.4,245.5 C611.0,245.2 612.6,245.0 614.3,244.8 C615.9,244.6 617.6,244.4 619.2,244.3 C620.9,244.2 622.6,244.0 624.2,244.0 C625.9,243.9 627.5,243.8 629.2,243.8 C630.8,243.7 632.5,243.7 634.2,243.8 C635.8,243.8 637.5,243.8 639.2,243.9 C640.8,244.0 642.5,244.1 644.1,244.2 C645.8,244.3 647.5,244.4 649.1,244.6 C650.8,244.8 652.4,245.0 654.1,245.2 C655.8,245.4 657.4,245.6 659.1,245.9 C660.7,246.1 662.4,246.4 664.0,246.7 C665.7,247.0 667.3,247.3 669.0,247.7 C670.6,248.0 672.3,248.4 673.9,248.8 C675.6,249.1 677.2,249.5 678.9,250.0 C680.5,250.4 682.1,250.8 683.8,251.3 C685.4,251.8 687.0,252.2 688.6,252.7 C690.3,253.2 691.9,253.7 693.5,254.3 C695.1,254.8 696.7,255.4 698.3,255.9 C699.9,256.5 701.5,257.1 703.1,257.7 C704.7,258.3 706.3,258.9 707.9,259.5 C709.5,260.2 711.1,260.8 712.6,261.5 C714.2,262.1 715.8,262.8 717.3,263.5 C718.9,264.2 720.4,264.9 722.0,265.6 C723.5,266.3 725.1,267.0 726.6,267.8 C728.1,268.5 729.7,269.3 731.2,270.0 C732.7,270.8 734.2,271.6 735.7,272.4 C737.2,273.2 738.7,274.0 740.2,274.8 C741.7,275.6 743.1,276.4 744.6,277.2 C746.1,278.1 747.5,278.9 749.0,279.8 C750.4,280.6 751.9,281.5 753.3,282.3 C754.7,283.2 756.1,284.1 757.5,285.0 C759.0,285.8 761.0,287.2 761.7,287.6 L761.8,350.1 C761.3,349.4 759.7,347.3 758.6,346.0 C757.5,344.6 756.3,343.3 755.2,342.0 C754.0,340.7 752.9,339.4 751.7,338.1 C750.5,336.9 749.3,335.6 748.1,334.4 C746.8,333.2 745.6,332.0 744.3,330.8 C743.1,329.7 741.8,328.5 740.5,327.4 C739.2,326.3 737.9,325.2 736.5,324.1 C735.2,323.0 733.8,322.0 732.5,320.9 C731.1,319.9 729.7,318.9 728.3,317.9 C727.0,317.0 725.5,316.0 724.1,315.1 C722.7,314.1 721.3,313.2 719.8,312.4 C718.4,311.5 716.9,310.6 715.4,309.8 C714.0,309.0 712.5,308.2 711.0,307.4 C709.5,306.6 708.0,305.9 706.5,305.1 C704.9,304.4 703.4,303.7 701.9,303.0 C700.3,302.4 698.8,301.7 697.2,301.1 C695.7,300.5 694.1,299.9 692.5,299.3 C690.9,298.7 689.4,298.2 687.8,297.7 C686.2,297.2 684.6,296.7 683.0,296.2 C681.4,295.8 679.8,295.3 678.1,294.9 C676.5,294.5 674.9,294.2 673.3,293.8 C671.6,293.5 670.0,293.1 668.4,292.9 C666.7,292.6 665.1,292.3 663.4,292.1 C661.8,291.8 660.1,291.6 658.5,291.5 C656.8,291.3 655.2,291.1 653.5,291.0 C651.9,290.9 650.2,290.8 648.6,290.8 C646.9,290.7 645.2,290.7 643.6,290.7 C641.9,290.7 640.3,290.7 638.6,290.8 C636.9,290.9 635.3,291.0 633.6,291.1 C632.0,291.2 630.3,291.3 628.6,291.5 C627.0,291.7 625.3,291.9 623.7,292.2 C622.0,292.4 620.4,292.7 618.7,293.0 C617.1,293.2 615.4,293.6 613.8,293.9 C612.2,294.3 610.5,294.6 608.9,295.0 C607.3,295.4 605.6,295.8 604.0,296.3 C602.4,296.7 600.8,297.2 599.1,297.7 C597.5,298.2 595.9,298.7 594.3,299.3 C592.7,299.8 591.1,300.4 589.5,301.0 C587.9,301.5 586.3,302.1 584.7,302.8 C583.1,303.4 581.6,304.1 580.0,304.7 C578.4,305.4 576.9,306.1 575.3,306.8 C573.8,307.5 572.2,308.3 570.7,309.0 C569.1,309.8 567.6,310.6 566.1,311.4 C564.6,312.2 563.1,313.0 561.5,313.8 C560.0,314.6 558.6,315.5 557.1,316.3 C555.6,317.2 554.1,318.1 552.6,319.0 C551.2,319.9 549.7,320.8 548.3,321.7 C546.8,322.7 545.4,323.6 544.0,324.6 C542.6,325.5 541.2,326.5 539.8,327.5 C538.4,328.5 537.0,329.5 535.6,330.5 C534.2,331.5 532.9,332.5 531.5,333.6 C530.2,334.6 528.9,335.7 527.5,336.7 C526.2,337.8 524.9,338.9 523.6,340.0 C522.3,341.1 521.1,342.2 519.8,343.3 C518.5,344.4 517.3,345.5 516.1,346.6 C514.8,347.8 513.6,348.9 512.4,350.1 C511.2,351.2 510.0,352.4 508.8,353.6 C507.7,354.7 506.5,355.9 505.3,357.1 C504.2,358.3 503.1,359.5 501.9,360.7 C500.8,361.9 499.7,363.1 498.6,364.3 C497.5,365.6 496.4,366.8 495.3,368.1 C494.3,369.3 493.2,370.5 492.1,371.8 C491.1,373.1 490.0,374.3 489.0,375.6 C488.0,376.9 487.0,378.2 486.0,379.5 C485.0,380.8 484.0,382.1 483.0,383.4 C482.0,384.7 481.0,386.0 480.0,387.3 C479.1,388.6 478.1,390.0 477.2,391.3 C476.2,392.6 475.3,394.0 474.3,395.3 C473.4,396.7 472.5,398.1 471.6,399.4 C470.7,400.8 469.8,402.2 468.9,403.5 C468.0,404.9 467.1,406.3 466.2,407.7 C465.3,409.1 464.5,410.5 463.6,411.9 C462.7,413.3 461.9,414.7 461.0,416.1 C460.2,417.5 459.3,418.9 458.5,420.4 C457.7,421.8 456.8,423.2 456.0,424.6 C455.2,426.1 454.4,427.5 453.6,429.0 C452.7,430.4 451.9,431.9 451.1,433.3 C450.3,434.8 449.5,436.2 448.8,437.7 C448.0,439.1 447.2,440.6 446.4,442.1 C445.6,443.6 444.8,445.0 444.1,446.5 C443.3,448.0 442.5,449.5 441.8,451.0 C441.0,452.4 440.2,453.9 439.5,455.4 C438.7,456.9 438.0,458.4 437.2,459.9 C436.5,461.4 435.7,462.9 435.0,464.4 C434.2,465.9 433.5,467.4 432.8,468.9 C432.0,470.5 431.3,472.0 430.6,473.5 C429.8,475.0 429.1,476.5 428.4,478.0 C427.6,479.5 426.9,481.1 426.2,482.6 C425.4,484.1 424.7,485.6 424.0,487.2 C423.3,488.7 422.5,490.2 421.8,491.7 C421.1,493.3 420.3,494.8 419.6,496.3 C418.9,497.9 418.2,499.4 417.4,500.9 C416.7,502.5 416.0,504.0 415.2,505.5 C414.5,507.1 413.8,508.6 413.1,510.1 C412.3,511.7 411.6,513.2 410.9,514.7 C410.1,516.3 409.4,517.8 408.6,519.3 C407.9,520.9 407.2,522.4 406.4,523.9 C405.7,525.5 404.9,527.0 404.2,528.5 C403.4,530.1 402.7,531.6 401.9,533.1 C401.2,534.7 400.4,536.2 399.6,537.7 C398.9,539.2 398.1,540.8 397.3,542.3 C396.6,543.8 395.8,545.3 395.0,546.9 C394.2,548.4 393.4,549.9 392.7,551.4 C391.9,552.9 391.1,554.5 390.3,556.0 C389.5,557.5 388.7,559.0 387.9,560.5 C387.0,562.0 386.2,563.5 385.4,565.0 C384.6,566.5 383.7,568.0 382.9,569.5 C382.1,571.0 381.2,572.5 380.4,574.0 C379.5,575.5 378.7,577.0 377.8,578.4 C376.9,579.9 376.1,581.4 375.2,582.9 C374.3,584.4 373.4,585.8 372.5,587.3 C371.6,588.8 370.7,590.2 369.8,591.7 C368.9,593.2 368.0,594.6 367.0,596.1 C366.1,597.5 365.2,599.0 364.2,600.4 C363.3,601.8 362.3,603.3 361.4,604.7 C360.4,606.1 359.4,607.6 358.4,609.0 C357.4,610.4 356.4,611.8 355.4,613.2 C354.4,614.6 353.4,616.0 352.4,617.4 C351.3,618.8 350.3,620.2 349.3,621.6 C348.2,623.0 347.1,624.3 346.1,625.7 C345.0,627.0 343.9,628.4 342.8,629.7 C341.7,631.1 340.6,632.4 339.5,633.7 C338.4,635.0 337.3,636.3 336.2,637.6 C335.0,638.9 333.9,640.2 332.7,641.4 C331.6,642.7 330.4,643.9 329.2,645.2 C328.1,646.4 326.9,647.6 325.7,648.8 C324.5,650.0 323.3,651.2 322.1,652.4 C320.9,653.5 319.6,654.7 318.4,655.8 C317.2,656.9 315.9,658.1 314.6,659.1 C313.4,660.2 312.1,661.3 310.8,662.4 C309.6,663.4 308.3,664.4 307.0,665.5 C305.7,666.5 304.4,667.5 303.0,668.4 C301.7,669.4 300.4,670.3 299.0,671.2 C297.7,672.2 296.3,673.1 295.0,673.9 C293.6,674.8 292.2,675.6 290.8,676.5 C289.4,677.3 288.0,678.1 286.6,678.8 C285.2,679.6 283.8,680.3 282.4,681.1 C280.9,681.8 279.5,682.5 278.0,683.1 C276.6,683.8 275.1,684.4 273.6,685.0 C272.2,685.6 270.7,686.1 269.2,686.7 C267.7,687.2 266.2,687.7 264.6,688.2 C263.1,688.6 261.6,689.1 260.0,689.5 C258.5,689.9 256.9,690.3 255.4,690.6 C253.8,690.9 252.3,691.3 250.7,691.5 C249.1,691.8 247.5,692.1 245.9,692.3 C244.3,692.5 242.7,692.7 241.1,692.8 C239.5,693.0 237.9,693.1 236.3,693.2 C234.7,693.3 233.0,693.4 231.4,693.4 C229.8,693.5 228.2,693.5 226.5,693.5 C224.9,693.4 223.3,693.4 221.6,693.3 C220.0,693.2 218.4,693.1 216.7,693.0 C215.1,692.9 213.4,692.7 211.8,692.5 C210.2,692.3 208.5,692.1 206.9,691.8 C205.3,691.6 203.6,691.3 202.0,691.0 C200.4,690.7 198.7,690.4 197.1,690.0 C195.5,689.7 193.8,689.3 192.2,688.9 C190.6,688.5 189.0,688.1 187.4,687.6 C185.8,687.1 184.2,686.7 182.6,686.2 C181.0,685.6 179.4,685.1 177.8,684.6 C176.2,684.0 174.6,683.4 173.1,682.8 C171.5,682.2 169.9,681.6 168.4,680.9 C166.9,680.2 165.3,679.6 163.8,678.8 C162.3,678.1 160.7,677.4 159.2,676.7 C157.7,675.9 156.2,675.1 154.7,674.3 C153.3,673.5 151.8,672.7 150.3,671.9 C148.9,671.0 147.4,670.2 146.0,669.3 C144.5,668.4 143.1,667.5 141.7,666.6 C140.2,665.7 138.8,664.7 137.4,663.8 C136.0,662.8 134.6,661.9 133.2,660.9 C131.9,659.9 130.5,658.9 129.1,657.9 C127.7,656.8 126.4,655.8 125.0,654.8 C123.7,653.7 122.4,652.6 121.0,651.6 C119.7,650.5 118.4,649.4 117.1,648.3 C115.7,647.2 114.4,646.1 113.1,645.0 C111.8,643.9 110.5,642.7 109.3,641.6 C108.0,640.4 106.7,639.3 105.4,638.1 C104.2,637.0 102.9,635.8 101.7,634.6 C100.4,633.5 99.2,632.3 97.9,631.1 C96.7,629.9 95.5,628.7 94.2,627.5 C93.0,626.3 91.8,625.1 90.6,623.9 C89.4,622.7 88.2,621.5 87.0,620.3 C85.8,619.1 84.6,617.8 83.4,616.6 C82.2,615.4 81.0,614.2 79.8,613.0 C78.7,611.7 77.5,610.5 76.3,609.3 C75.2,608.1 74.0,606.8 72.9,605.6 C71.7,604.4 70.6,603.1 69.4,601.9 C68.3,600.7 67.1,599.4 66.0,598.2 C64.9,596.9 63.7,595.7 62.6,594.4 C61.5,593.2 60.4,592.0 59.3,590.7 C58.2,589.5 57.0,588.2 55.9,587.0 C54.8,585.7 53.7,584.4 52.6,583.2 C51.5,581.9 50.4,580.7 49.4,579.4 C48.3,578.2 47.2,576.9 46.1,575.6 C45.0,574.4 43.9,573.1 42.9,571.8 C41.8,570.6 40.7,569.3 39.6,568.0 C38.6,566.7 37.5,565.5 36.4,564.2 C35.4,562.9 34.3,561.6 33.2,560.4 C32.2,559.1 31.1,557.8 30.1,556.5 C29.0,555.2 28.0,554.0 26.9,552.7 C25.9,551.4 24.8,550.1 23.8,548.8 C22.7,547.5 21.7,546.2 20.6,544.9 C19.6,543.6 18.6,542.3 17.5,541.0 C16.5,539.8 15.4,538.5 14.4,537.2 C13.4,535.9 12.3,534.6 11.3,533.3 C10.3,531.9 9.2,530.6 8.2,529.3 C7.2,528.0 6.1,526.7 5.1,525.4 C4.1,524.1 3.0,522.8 2.0,521.5 C1.0,520.2 -0.1,518.9 -1.1,517.6 C-2.1,516.2 -3.2,514.9 -4.2,513.6 C-5.2,512.3 -6.3,511.0 -7.3,509.7 C-8.3,508.3 -9.9,506.3 -10.4,505.7 Z" fill="#0a0a0a"/>
<g clip-path="url(#cc)" mask="url(#lm)"><path d="M-8.6,478.9 C-7.8,480.0 -5.7,483.3 -4.2,485.5 C-2.7,487.7 -1.2,489.8 0.3,491.9 C1.7,494.1 3.2,496.2 4.7,498.3 C6.3,500.4 7.8,502.4 9.3,504.5 C10.8,506.6 12.4,508.6 13.9,510.6 C15.5,512.7 17.0,514.7 18.6,516.7 C20.2,518.7 21.7,520.7 23.3,522.8 C24.9,524.8 26.5,526.8 28.1,528.8 C29.8,530.8 31.4,532.8 33.0,534.8 C34.7,536.9 36.3,538.9 38.0,540.9 C39.7,543.0 41.4,545.0 43.1,547.1 C44.8,549.2 46.5,551.3 48.2,553.4 C49.9,555.5 51.7,557.6 53.4,559.7 C55.2,561.9 57.0,564.0 58.7,566.2 C60.5,568.3 62.3,570.5 64.2,572.6 C66.0,574.8 67.8,576.9 69.7,579.1 C71.5,581.2 73.4,583.4 75.3,585.5 C77.2,587.6 79.1,589.8 81.0,591.9 C82.9,594.0 84.9,596.1 86.8,598.2 C88.8,600.2 90.8,602.3 92.8,604.3 C94.8,606.4 96.8,608.4 98.8,610.4 C100.9,612.3 102.9,614.3 105.0,616.2 C107.1,618.1 109.2,620.0 111.3,621.9 C113.4,623.7 115.6,625.5 117.7,627.3 C119.9,629.0 122.1,630.8 124.3,632.4 C126.5,634.1 128.7,635.7 130.9,637.3 C133.2,638.9 135.5,640.4 137.8,641.8 C140.0,643.3 142.4,644.7 144.7,646.0 C147.0,647.3 149.4,648.6 151.8,649.8 C154.2,651.0 156.6,652.1 159.0,653.2 C161.4,654.3 163.9,655.3 166.4,656.2 C168.8,657.1 171.3,658.0 173.8,658.8 C176.3,659.5 178.8,660.3 181.4,660.9 C183.9,661.6 186.5,662.1 189.0,662.6 C191.6,663.2 194.1,663.6 196.7,664.0 C199.3,664.4 201.8,664.7 204.4,664.9 C207.0,665.2 209.6,665.3 212.1,665.5 C214.7,665.6 217.3,665.6 219.9,665.6 C222.4,665.6 225.0,665.5 227.6,665.3 C230.1,665.2 232.7,665.0 235.2,664.7 C237.8,664.4 240.3,664.1 242.8,663.7 C245.3,663.3 247.9,662.8 250.3,662.2 C252.8,661.7 255.3,661.1 257.8,660.4 C260.2,659.8 262.6,659.1 265.1,658.3 C267.5,657.5 269.9,656.6 272.2,655.7 C274.6,654.8 276.9,653.8 279.2,652.8 C281.5,651.7 283.8,650.6 286.0,649.5 C288.3,648.3 290.5,647.1 292.7,645.8 C294.8,644.5 297.0,643.2 299.1,641.8 C301.2,640.4 303.2,638.9 305.3,637.4 C307.3,635.9 309.3,634.3 311.2,632.6 C313.1,631.0 315.0,629.3 316.8,627.5 C318.7,625.8 320.5,624.0 322.2,622.1 C324.0,620.2 325.7,618.3 327.4,616.4 C329.1,614.4 330.7,612.4 332.3,610.3 C333.9,608.3 335.5,606.2 337.1,604.0 C338.6,601.9 340.1,599.7 341.6,597.5 C343.1,595.3 344.5,593.0 346.0,590.7 C347.4,588.4 348.8,586.1 350.2,583.8 C351.5,581.4 352.9,579.0 354.2,576.6 C355.6,574.2 356.9,571.8 358.2,569.3 C359.5,566.9 360.7,564.4 362.0,561.9 C363.3,559.4 364.5,556.9 365.7,554.4 C367.0,551.9 368.2,549.4 369.4,546.8 C370.6,544.3 371.8,541.7 373.0,539.1 C374.2,536.6 375.4,534.0 376.6,531.4 C377.7,528.9 378.9,526.3 380.1,523.7 C381.3,521.1 382.4,518.6 383.6,516.0 C384.8,513.4 386.0,510.9 387.1,508.3 C388.3,505.8 389.5,503.2 390.7,500.7 C391.9,498.1 393.1,495.6 394.3,493.1 C395.5,490.5 396.7,488.0 397.9,485.5 C399.1,483.0 400.3,480.5 401.5,478.0 C402.7,475.5 403.9,473.0 405.2,470.5 C406.4,468.1 407.6,465.6 408.9,463.2 C410.1,460.7 411.4,458.3 412.7,455.8 C413.9,453.4 415.2,451.0 416.5,448.6 C417.8,446.2 419.0,443.8 420.4,441.4 C421.7,439.0 423.0,436.6 424.3,434.2 C425.6,431.9 427.0,429.5 428.3,427.2 C429.7,424.9 431.0,422.5 432.4,420.2 C433.8,417.9 435.1,415.6 436.6,413.4 C438.0,411.1 439.4,408.8 440.8,406.6 C442.2,404.3 443.7,402.1 445.1,399.9 C446.6,397.6 448.1,395.4 449.6,393.3 C451.1,391.1 452.6,388.9 454.1,386.7 C455.7,384.6 457.2,382.5 458.8,380.3 C460.3,378.2 461.9,376.1 463.5,374.0 C465.1,372.0 466.8,369.9 468.4,367.9 C470.0,365.8 471.7,363.8 473.4,361.8 C475.1,359.8 476.8,357.8 478.5,355.8 C480.3,353.9 482.0,351.9 483.8,350.0 C485.6,348.1 487.4,346.2 489.2,344.3 C491.0,342.4 492.8,340.6 494.7,338.7 C496.6,336.9 498.5,335.1 500.4,333.3 C502.3,331.5 504.3,329.7 506.3,328.0 C508.2,326.2 510.2,324.5 512.3,322.8 C514.3,321.1 516.3,319.4 518.4,317.8 C520.5,316.1 522.6,314.5 524.8,312.9 C526.9,311.3 529.1,309.7 531.3,308.2 C533.5,306.6 535.7,305.1 538.0,303.6 C540.2,302.1 542.5,300.6 544.8,299.2 C547.1,297.8 549.5,296.4 551.8,295.0 C554.2,293.7 556.6,292.4 559.0,291.1 C561.4,289.8 563.8,288.6 566.3,287.4 C568.7,286.2 571.2,285.1 573.7,284.0 C576.1,282.9 578.7,281.9 581.2,280.9 C583.7,280.0 586.2,279.0 588.8,278.2 C591.3,277.3 593.9,276.5 596.5,275.8 C599.1,275.0 601.6,274.3 604.3,273.7 C606.9,273.1 609.5,272.6 612.1,272.1 C614.7,271.6 617.3,271.2 620.0,270.9 C622.6,270.6 625.3,270.3 627.9,270.2 C630.6,270.0 633.2,269.9 635.9,269.9 C638.5,269.9 641.2,270.0 643.9,270.1 C646.5,270.3 649.2,270.5 651.9,270.8 C654.5,271.1 657.2,271.5 659.9,271.9 C662.5,272.3 665.2,272.8 667.9,273.4 C670.5,273.9 673.2,274.5 675.9,275.1 C678.5,275.8 681.2,276.4 683.8,277.1 C686.5,277.8 689.1,278.6 691.8,279.3 C694.4,280.1 697.1,280.9 699.7,281.7 C702.3,282.5 704.9,283.3 707.6,284.1 C710.2,284.9 712.8,285.7 715.4,286.5 C718.0,287.3 720.6,288.1 723.2,288.9 C725.7,289.7 728.3,290.5 730.9,291.2 C733.4,292.0 736.0,292.7 738.5,293.4 C741.0,294.1 743.5,294.7 746.1,295.3 C748.6,296.0 752.3,296.8 753.5,297.0" fill="none" stroke="#262626" stroke-width="22" filter="url(#b5)"/><path d="M-8.6,478.9 C-7.8,480.0 -5.7,483.3 -4.2,485.5 C-2.7,487.7 -1.2,489.8 0.3,491.9 C1.7,494.1 3.2,496.2 4.7,498.3 C6.3,500.4 7.8,502.4 9.3,504.5 C10.8,506.6 12.4,508.6 13.9,510.6 C15.5,512.7 17.0,514.7 18.6,516.7 C20.2,518.7 21.7,520.7 23.3,522.8 C24.9,524.8 26.5,526.8 28.1,528.8 C29.8,530.8 31.4,532.8 33.0,534.8 C34.7,536.9 36.3,538.9 38.0,540.9 C39.7,543.0 41.4,545.0 43.1,547.1 C44.8,549.2 46.5,551.3 48.2,553.4 C49.9,555.5 51.7,557.6 53.4,559.7 C55.2,561.9 57.0,564.0 58.7,566.2 C60.5,568.3 62.3,570.5 64.2,572.6 C66.0,574.8 67.8,576.9 69.7,579.1 C71.5,581.2 73.4,583.4 75.3,585.5 C77.2,587.6 79.1,589.8 81.0,591.9 C82.9,594.0 84.9,596.1 86.8,598.2 C88.8,600.2 90.8,602.3 92.8,604.3 C94.8,606.4 96.8,608.4 98.8,610.4 C100.9,612.3 102.9,614.3 105.0,616.2 C107.1,618.1 109.2,620.0 111.3,621.9 C113.4,623.7 115.6,625.5 117.7,627.3 C119.9,629.0 122.1,630.8 124.3,632.4 C126.5,634.1 128.7,635.7 130.9,637.3 C133.2,638.9 135.5,640.4 137.8,641.8 C140.0,643.3 142.4,644.7 144.7,646.0 C147.0,647.3 149.4,648.6 151.8,649.8 C154.2,651.0 156.6,652.1 159.0,653.2 C161.4,654.3 163.9,655.3 166.4,656.2 C168.8,657.1 171.3,658.0 173.8,658.8 C176.3,659.5 178.8,660.3 181.4,660.9 C183.9,661.6 186.5,662.1 189.0,662.6 C191.6,663.2 194.1,663.6 196.7,664.0 C199.3,664.4 201.8,664.7 204.4,664.9 C207.0,665.2 209.6,665.3 212.1,665.5 C214.7,665.6 217.3,665.6 219.9,665.6 C222.4,665.6 225.0,665.5 227.6,665.3 C230.1,665.2 232.7,665.0 235.2,664.7 C237.8,664.4 240.3,664.1 242.8,663.7 C245.3,663.3 247.9,662.8 250.3,662.2 C252.8,661.7 255.3,661.1 257.8,660.4 C260.2,659.8 262.6,659.1 265.1,658.3 C267.5,657.5 269.9,656.6 272.2,655.7 C274.6,654.8 276.9,653.8 279.2,652.8 C281.5,651.7 283.8,650.6 286.0,649.5 C288.3,648.3 290.5,647.1 292.7,645.8 C294.8,644.5 297.0,643.2 299.1,641.8 C301.2,640.4 303.2,638.9 305.3,637.4 C307.3,635.9 309.3,634.3 311.2,632.6 C313.1,631.0 315.0,629.3 316.8,627.5 C318.7,625.8 320.5,624.0 322.2,622.1 C324.0,620.2 325.7,618.3 327.4,616.4 C329.1,614.4 330.7,612.4 332.3,610.3 C333.9,608.3 335.5,606.2 337.1,604.0 C338.6,601.9 340.1,599.7 341.6,597.5 C343.1,595.3 344.5,593.0 346.0,590.7 C347.4,588.4 348.8,586.1 350.2,583.8 C351.5,581.4 352.9,579.0 354.2,576.6 C355.6,574.2 356.9,571.8 358.2,569.3 C359.5,566.9 360.7,564.4 362.0,561.9 C363.3,559.4 364.5,556.9 365.7,554.4 C367.0,551.9 368.2,549.4 369.4,546.8 C370.6,544.3 371.8,541.7 373.0,539.1 C374.2,536.6 375.4,534.0 376.6,531.4 C377.7,528.9 378.9,526.3 380.1,523.7 C381.3,521.1 382.4,518.6 383.6,516.0 C384.8,513.4 386.0,510.9 387.1,508.3 C388.3,505.8 389.5,503.2 390.7,500.7 C391.9,498.1 393.1,495.6 394.3,493.1 C395.5,490.5 396.7,488.0 397.9,485.5 C399.1,483.0 400.3,480.5 401.5,478.0 C402.7,475.5 403.9,473.0 405.2,470.5 C406.4,468.1 407.6,465.6 408.9,463.2 C410.1,460.7 411.4,458.3 412.7,455.8 C413.9,453.4 415.2,451.0 416.5,448.6 C417.8,446.2 419.0,443.8 420.4,441.4 C421.7,439.0 423.0,436.6 424.3,434.2 C425.6,431.9 427.0,429.5 428.3,427.2 C429.7,424.9 431.0,422.5 432.4,420.2 C433.8,417.9 435.1,415.6 436.6,413.4 C438.0,411.1 439.4,408.8 440.8,406.6 C442.2,404.3 443.7,402.1 445.1,399.9 C446.6,397.6 448.1,395.4 449.6,393.3 C451.1,391.1 452.6,388.9 454.1,386.7 C455.7,384.6 457.2,382.5 458.8,380.3 C460.3,378.2 461.9,376.1 463.5,374.0 C465.1,372.0 466.8,369.9 468.4,367.9 C470.0,365.8 471.7,363.8 473.4,361.8 C475.1,359.8 476.8,357.8 478.5,355.8 C480.3,353.9 482.0,351.9 483.8,350.0 C485.6,348.1 487.4,346.2 489.2,344.3 C491.0,342.4 492.8,340.6 494.7,338.7 C496.6,336.9 498.5,335.1 500.4,333.3 C502.3,331.5 504.3,329.7 506.3,328.0 C508.2,326.2 510.2,324.5 512.3,322.8 C514.3,321.1 516.3,319.4 518.4,317.8 C520.5,316.1 522.6,314.5 524.8,312.9 C526.9,311.3 529.1,309.7 531.3,308.2 C533.5,306.6 535.7,305.1 538.0,303.6 C540.2,302.1 542.5,300.6 544.8,299.2 C547.1,297.8 549.5,296.4 551.8,295.0 C554.2,293.7 556.6,292.4 559.0,291.1 C561.4,289.8 563.8,288.6 566.3,287.4 C568.7,286.2 571.2,285.1 573.7,284.0 C576.1,282.9 578.7,281.9 581.2,280.9 C583.7,280.0 586.2,279.0 588.8,278.2 C591.3,277.3 593.9,276.5 596.5,275.8 C599.1,275.0 601.6,274.3 604.3,273.7 C606.9,273.1 609.5,272.6 612.1,272.1 C614.7,271.6 617.3,271.2 620.0,270.9 C622.6,270.6 625.3,270.3 627.9,270.2 C630.6,270.0 633.2,269.9 635.9,269.9 C638.5,269.9 641.2,270.0 643.9,270.1 C646.5,270.3 649.2,270.5 651.9,270.8 C654.5,271.1 657.2,271.5 659.9,271.9 C662.5,272.3 665.2,272.8 667.9,273.4 C670.5,273.9 673.2,274.5 675.9,275.1 C678.5,275.8 681.2,276.4 683.8,277.1 C686.5,277.8 689.1,278.6 691.8,279.3 C694.4,280.1 697.1,280.9 699.7,281.7 C702.3,282.5 704.9,283.3 707.6,284.1 C710.2,284.9 712.8,285.7 715.4,286.5 C718.0,287.3 720.6,288.1 723.2,288.9 C725.7,289.7 728.3,290.5 730.9,291.2 C733.4,292.0 736.0,292.7 738.5,293.4 C741.0,294.1 743.5,294.7 746.1,295.3 C748.6,296.0 752.3,296.8 753.5,297.0" fill="none" stroke="#6e6e6e" stroke-width="10" filter="url(#b1)"/></g>
<ellipse cx="224.5" cy="487" rx="127.5" ry="42.8" fill="#1769cf"/>
<line x1="226.4" y1="532.6" x2="226.4" y2="643" stroke="#2a62c4" stroke-width="2" stroke-dasharray="10.8 2.5"/>
<circle cx="226.3" cy="649.4" r="8.2" fill="#1a64d8" filter="url(#b3)"/>
<circle cx="226.3" cy="649.4" r="5.2" fill="#e8f0fc" filter="url(#b3)"/>
<circle cx="226.3" cy="649.4" r="2.9" fill="#050505" filter="url(#b3)"/>
<g font-family="'Liberation Sans', sans-serif" filter="url(#nf)">
<text x="57.3" y="73" font-size="44" font-weight="bold" fill="#1462cf" textLength="165.72" lengthAdjust="spacingAndGlyphs">Flexible</text>
<text x="234.9" y="73" font-size="44" font-weight="bold" fill="#1462cf" textLength="88.88" lengthAdjust="spacingAndGlyphs">wire</text>
<text x="335.3" y="73" font-size="44" font-weight="bold" fill="#1462cf" textLength="96.76" lengthAdjust="spacingAndGlyphs">body</text>
<text x="443.9" y="73" font-size="44" font-weight="bold" fill="#1462cf" textLength="146.19" lengthAdjust="spacingAndGlyphs">Copper</text>
<text x="601.7" y="73" font-size="44" font-weight="bold" fill="#1462cf" textLength="89.64" lengthAdjust="spacingAndGlyphs">core</text>
<text x="67.5" y="122.8" font-size="33.5" fill="#333" stroke="#333" stroke-width="0.6" textLength="102.3" lengthAdjust="spacingAndGlyphs">Strong</text>
<text x="177.7" y="122.8" font-size="33.5" fill="#333" stroke="#333" stroke-width="0.6" textLength="54.85" lengthAdjust="spacingAndGlyphs">and</text>
<text x="244.0" y="122.8" font-size="33.5" fill="#333" stroke="#333" stroke-width="0.6" textLength="221.5" lengthAdjust="spacingAndGlyphs">wear-resistant</text>
<text x="475.3" y="122.8" font-size="33.5" fill="#333" stroke="#333" stroke-width="0.6" textLength="60.31" lengthAdjust="spacingAndGlyphs">PVC</text>
<text x="544.0" y="122.8" font-size="33.5" fill="#333" stroke="#333" stroke-width="0.6" textLength="139.87" lengthAdjust="spacingAndGlyphs">material,</text>
<text x="81.8" y="167.5" font-size="33.5" fill="#333" stroke="#333" stroke-width="0.6" textLength="133.6" lengthAdjust="spacingAndGlyphs">resistant</text>
<text x="225.7" y="167.5" font-size="33.5" fill="#333" stroke="#333" stroke-width="0.6" textLength="27.14" lengthAdjust="spacingAndGlyphs">to</text>
<text x="265.0" y="167.5" font-size="33.5" fill="#333" stroke="#333" stroke-width="0.6" textLength="129.07" lengthAdjust="spacingAndGlyphs">bending,</text>
<text x="402.0" y="167.5" font-size="33.5" fill="#333" stroke="#333" stroke-width="0.6" textLength="45.54" lengthAdjust="spacingAndGlyphs">not</text>
<text x="458.8" y="167.5" font-size="33.5" fill="#333" stroke="#333" stroke-width="0.6" textLength="66.93" lengthAdjust="spacingAndGlyphs">easy</text>
<text x="536.0" y="167.5" font-size="33.5" fill="#333" stroke="#333" stroke-width="0.6" textLength="28.36" lengthAdjust="spacingAndGlyphs">to</text>
<text x="573.8" y="167.5" font-size="33.5" fill="#333" stroke="#333" stroke-width="0.6" textLength="94.13" lengthAdjust="spacingAndGlyphs">tangle</text>
<text x="112.6" y="499.5" font-size="34.4" fill="#fff" stroke="#fff" stroke-width="0.8" textLength="59.87" lengthAdjust="spacingAndGlyphs">PVC</text>
<text x="182.1" y="499.5" font-size="34.4" fill="#fff" stroke="#fff" stroke-width="0.8" textLength="79.22" lengthAdjust="spacingAndGlyphs">outer</text>
<text x="272.2" y="499.5" font-size="34.4" fill="#fff" stroke="#fff" stroke-width="0.8" textLength="65.66" lengthAdjust="spacingAndGlyphs">quilt</text>
</g>
</svg>
</div></body></html>
